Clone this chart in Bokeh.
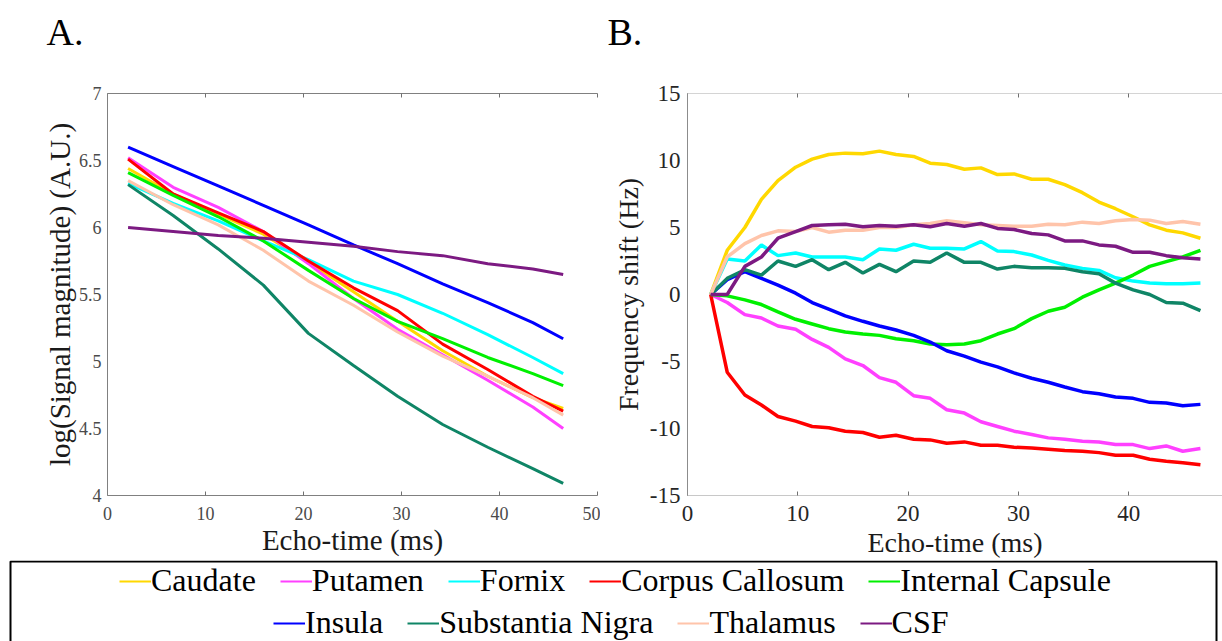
from bokeh.plotting import figure
from bokeh.models import (Range1d, FixedTicker, CustomJSTickFormatter, LinearAxis,
                          Legend, LegendItem, BoxAnnotation, Label)
from bokeh.layouts import column, row
from bokeh.embed import file_html
from bokeh.resources import INLINE

FONT = "Liberation Serif"

regions = ["Caudate", "Putamen", "Fornix", "Corpus Callosum", "Internal Capsule",
           "Insula", "Substantia Nigra", "Thalamus", "CSF"]
colors = ["#FFD800", "#FF40FF", "#00FFFF", "#FF0000", "#00F000",
          "#0000FF", "#0F8566", "#FFC4AA", "#7C1A82"]
panel_tags = ["A.", "B."]

# ---------------- Panel A: log signal magnitude ----------------
te_a = [2.1, 6.7, 11.3, 15.9, 20.5, 25.1, 29.6, 34.2, 38.8, 43.4, 46.5]
caudate_a = [6.44, 6.25, 6.10, 5.95, 5.74, 5.52, 5.30, 5.08, 4.89, 4.73, 4.65]
putamen_a = [6.52, 6.30, 6.15, 5.97, 5.73, 5.47, 5.24, 5.05, 4.86, 4.66, 4.50]
fornix_a = [6.33, 6.18, 6.05, 5.90, 5.76, 5.60, 5.50, 5.36, 5.20, 5.03, 4.91]
cc_a = [6.51, 6.25, 6.11, 5.97, 5.75, 5.55, 5.38, 5.13, 4.94, 4.74, 4.63]
ic_a = [6.41, 6.24, 6.08, 5.90, 5.68, 5.47, 5.30, 5.17, 5.03, 4.91, 4.82]
insula_a = [6.60, 6.455, 6.31, 6.165, 6.02, 5.87, 5.73, 5.58, 5.44, 5.29, 5.17]
sn_a = [6.32, 6.09, 5.84, 5.57, 5.21, 4.97, 4.74, 4.53, 4.36, 4.20, 4.09]
thal_a = [6.35, 6.17, 6.02, 5.83, 5.60, 5.42, 5.22, 5.04, 4.89, 4.73, 4.60]
csf_a = [6.00, 5.97, 5.94, 5.92, 5.89, 5.86, 5.82, 5.79, 5.73, 5.69, 5.65]

# ---------------- Panel B: frequency shift ----------------
te_b = [2.1, 3.6, 5.2, 6.7, 8.2, 9.8, 11.3, 12.8, 14.3, 15.9, 17.4, 18.9, 20.5, 22.0, 23.5,
        25.1, 26.6, 28.1, 29.6, 31.2, 32.7, 34.2, 35.8, 37.3, 38.8, 40.4, 41.9, 43.4, 44.9, 46.5]
caudate_b = [0, 3.3, 5.0, 7.1, 8.5, 9.5, 10.1, 10.45, 10.55, 10.5, 10.7, 10.45, 10.3, 9.8, 9.7,
             9.35, 9.45, 8.95, 9.0, 8.6, 8.6, 8.2, 7.6, 6.9, 6.4, 5.8, 5.2, 4.8, 4.6, 4.2]
putamen_b = [0, -0.6, -1.5, -1.75, -2.35, -2.6, -3.35, -3.95, -4.8, -5.3, -6.2, -6.55, -7.55, -7.75, -8.6,
             -8.85, -9.5, -9.85, -10.2, -10.45, -10.7, -10.8, -10.95, -11.0, -11.2, -11.2, -11.5, -11.3, -11.7, -11.5]
fornix_b = [0, 2.65, 2.5, 3.7, 2.9, 3.1, 2.8, 2.8, 2.8, 2.6, 3.4, 3.3, 3.75, 3.45, 3.45,
            3.4, 3.95, 3.25, 3.2, 2.95, 2.55, 2.2, 1.95, 1.8, 1.25, 1.0, 0.85, 0.8, 0.8, 0.85]
cc_b = [0, -5.8, -7.5, -8.25, -9.1, -9.45, -9.85, -9.95, -10.2, -10.3, -10.65, -10.5, -10.8, -10.85, -11.1,
        -11.0, -11.25, -11.25, -11.4, -11.45, -11.55, -11.65, -11.7, -11.8, -12.0, -12.0, -12.3, -12.45, -12.55, -12.7]
ic_b = [0, -0.1, -0.4, -0.75, -1.3, -1.85, -2.2, -2.55, -2.8, -2.95, -3.05, -3.3, -3.45, -3.7, -3.75,
        -3.7, -3.45, -2.95, -2.55, -1.8, -1.25, -0.95, -0.2, 0.35, 0.85, 1.45, 2.1, 2.45, 2.8, 3.3]
insula_b = [0, 1.1, 1.7, 1.2, 0.7, 0.1, -0.6, -1.1, -1.6, -2.0, -2.35, -2.65, -3.05, -3.55, -4.2,
            -4.6, -5.05, -5.4, -5.85, -6.25, -6.55, -6.9, -7.25, -7.4, -7.65, -7.75, -8.05, -8.1, -8.3, -8.2]
sn_b = [0, 1.2, 1.85, 1.45, 2.5, 2.1, 2.6, 1.85, 2.4, 1.6, 2.25, 1.7, 2.5, 2.4, 3.1,
        2.4, 2.4, 1.9, 2.1, 2.0, 2.0, 1.95, 1.7, 1.55, 0.85, 0.35, 0.0, -0.6, -0.65, -1.2]
thal_b = [0, 2.8, 3.8, 4.4, 4.75, 4.7, 5.0, 4.65, 4.8, 4.8, 5.0, 5.0, 5.2, 5.3, 5.5,
          5.35, 5.2, 5.15, 5.1, 5.1, 5.25, 5.2, 5.4, 5.3, 5.5, 5.6, 5.55, 5.3, 5.45, 5.25]
csf_b = [0, 0, 2.1, 2.8, 4.2, 4.7, 5.15, 5.2, 5.25, 5.05, 5.15, 5.1, 5.2, 5.05, 5.3,
         5.1, 5.3, 4.93, 4.85, 4.55, 4.45, 4.0, 4.0, 3.7, 3.6, 3.15, 3.15, 2.9, 2.75, 2.65]

series_a = [caudate_a, putamen_a, fornix_a, cc_a, ic_a, insula_a, sn_a, thal_a, csf_a]
series_b = [caudate_b, putamen_b, fornix_b, cc_b, ic_b, insula_b, sn_b, thal_b, csf_b]

a_xticks = [0, 10, 20, 30, 40, 50]
a_yticks = [4, 4.5, 5, 5.5, 6, 6.5, 7]
b_xticks = [0, 10, 20, 30, 40]
b_yticks = [-15, -10, -5, 0, 5, 10, 15]

fmt_js = "return String(tick);"


def blank_axis(ticks, tick_in, line_color, tick_color):
    return LinearAxis(ticker=FixedTicker(ticks=ticks),
                      formatter=CustomJSTickFormatter(code="return '';"),
                      major_label_text_font_size="0px", major_label_standoff=0,
                      major_tick_in=tick_in, major_tick_out=0,
                      minor_tick_line_color=None,
                      axis_line_color=line_color, major_tick_line_color=tick_color)


# ---------------- Top strip with panel tags ----------------
pT = figure(width=1222, height=62, x_range=Range1d(0, 1222), y_range=Range1d(0, 62),
            x_axis_type=None, y_axis_type=None, min_border=0,
            toolbar_location=None, output_backend="svg")
pT.outline_line_color = None
pT.xgrid.grid_line_color = None
pT.ygrid.grid_line_color = None
for tag, xpos in zip(panel_tags, [46, 607]):
    pT.add_layout(Label(x=xpos, y=31, text=tag, text_align="left", text_baseline="middle",
                        text_font=FONT, text_font_size="38px", text_color="black"))

# ---------------- Figure A ----------------
pA = figure(width=600, height=498, x_range=Range1d(0, 50), y_range=Range1d(4, 7),
            min_border_left=107, min_border_right=3, min_border_top=31, min_border_bottom=56,
            toolbar_location=None, output_backend="svg")
pA.outline_line_color = None
pA.xgrid.grid_line_color = None
pA.ygrid.grid_line_color = None

for ser, col in zip(series_a, colors):
    pA.line(te_a, ser, line_color=col, line_width=3)

xa = pA.xaxis[0]
xa.ticker = FixedTicker(ticks=a_xticks)
xa.formatter = CustomJSTickFormatter(code=fmt_js)
ya = pA.yaxis[0]
ya.ticker = FixedTicker(ticks=a_yticks)
ya.formatter = CustomJSTickFormatter(code=fmt_js)
for ax in (xa, ya):
    ax.major_label_text_font = FONT
    ax.major_label_text_font_size = "18px"
    ax.major_label_text_color = "#4a4a4a"
    ax.axis_line_color = "#808080"
    ax.major_tick_line_color = "#707070"
    ax.major_tick_out = 0
    ax.minor_tick_line_color = None
    ax.axis_label_text_font = FONT
    ax.axis_label_text_font_style = "normal"
    ax.axis_label_text_color = "#1a1a1a"
    ax.axis_label_text_font_size = "29px"
xa.major_tick_in = 4
xa.major_label_standoff = 11
xa.axis_label = "Echo-time (ms)"
xa.axis_label_standoff = 1
ya.major_tick_in = 0
ya.major_label_standoff = 6
ya.axis_label = "log(Signal magnitude) (A.U.)"
ya.axis_label_standoff = 0

pA.add_layout(blank_axis(a_xticks, 4, "#808080", "#707070"), "above")

# ---------------- Figure B ----------------
pB = figure(width=622, height=498, x_range=Range1d(0, 48.5), y_range=Range1d(-15, 15),
            min_border_left=87, min_border_right=0, min_border_top=30, min_border_bottom=62,
            toolbar_location=None, output_backend="svg")
pB.outline_line_color = None
pB.xgrid.grid_line_color = None
pB.ygrid.grid_line_color = None

for ser, col in zip(series_b, colors):
    pB.line(te_b, ser, line_color=col, line_width=3.5)

xb = pB.xaxis[0]
xb.ticker = FixedTicker(ticks=b_xticks)
xb.formatter = CustomJSTickFormatter(code=fmt_js)
yb = pB.yaxis[0]
yb.ticker = FixedTicker(ticks=b_yticks)
yb.formatter = CustomJSTickFormatter(code=fmt_js)
for ax in (xb, yb):
    ax.major_label_text_font = FONT
    ax.major_label_text_font_size = "23px"
    ax.major_label_text_color = "#262626"
    ax.major_tick_line_color = "#707070"
    ax.major_tick_out = 0
    ax.minor_tick_line_color = None
    ax.axis_label_text_font = FONT
    ax.axis_label_text_font_style = "normal"
    ax.axis_label_text_color = "#1a1a1a"
    ax.axis_label_text_font_size = "28px"
xb.axis_line_color = "#c8c8c8"
yb.axis_line_color = "#8c8c8c"
xb.major_tick_in = 4
xb.major_label_standoff = 10
xb.axis_label = "Echo-time (ms)"
xb.axis_label_standoff = 3
yb.major_tick_in = 0
yb.major_label_standoff = 7
yb.axis_label = "Frequency shift (Hz)"
yb.axis_label_standoff = 3

pB.add_layout(blank_axis(b_xticks, 4, "#d4d4d4", "#707070"), "above")

# ---------------- Legend strip ----------------
pL = figure(width=1222, height=81, x_range=Range1d(100, 1322), y_range=Range1d(0, 81),
            x_axis_type=None, y_axis_type=None, min_border=0,
            toolbar_location=None, output_backend="svg")
pL.outline_line_color = None
pL.xgrid.grid_line_color = None
pL.ygrid.grid_line_color = None
pL.add_layout(BoxAnnotation(left=110, right=1316, bottom=-30, top=80, fill_color=None,
                            line_color="black", line_alpha=1.0, line_width=2))

# legend proxies: the panel-B series, which fall outside this strip's visible range
items = []
for name, col, ser in zip(regions, colors, series_b):
    r = pL.line(te_b, ser, line_color=col, line_width=2)
    items.append(LegendItem(label=name, renderers=[r]))


def make_legend(its, loc):
    return Legend(items=its, location=loc, orientation="horizontal",
                  glyph_width=32, glyph_height=20, label_standoff=0, spacing=24,
                  padding=0, margin=0, border_line_color=None, background_fill_alpha=0,
                  label_text_font=FONT, label_text_font_size="32px",
                  label_text_color="black")


pL.add_layout(make_legend(items[:5], (119, 42)))
pL.add_layout(make_legend(items[5:], (273, 0)))

layout = column(pT, row(pA, pB, spacing=0), pL, spacing=0)

with open("out.html", "w") as f:
    f.write(file_html(layout, INLINE))
